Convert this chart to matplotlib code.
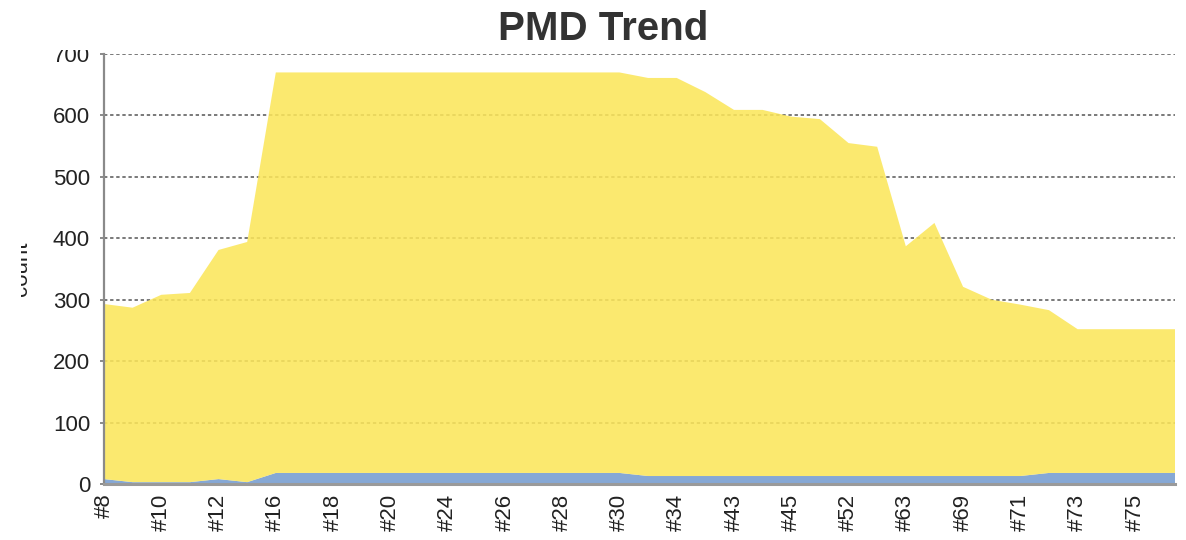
import numpy as np
import matplotlib.pyplot as plt
from matplotlib.transforms import Bbox, TransformedBbox

# builds shown on the x axis (every other build is labelled)
tick_labels = ["#8", "#10", "#12", "#16", "#18", "#20", "#24", "#26", "#28", "#30",
               "#34", "#43", "#45", "#52", "#63", "#69", "#71", "#73", "#75"]

# total warnings per build (top of the stack)
total_warnings = [293, 287, 308, 311, 381, 394, 670, 670, 670, 670,
                  670, 670, 670, 670, 670, 670, 670, 670, 670, 661,
                  661, 638, 609, 609, 598, 594, 555, 549, 387, 425,
                  321, 300, 292, 283, 252, 252, 252, 252, 252]

# low priority warnings (blue band at the bottom)
low_priority = [8, 3, 3, 3, 8, 3, 18, 18, 18, 18,
                18, 18, 18, 18, 18, 18, 18, 18, 18, 13,
                13, 13, 13, 13, 13, 13, 13, 13, 13, 13,
                13, 13, 13, 18, 18, 18, 18, 18, 18]

normal_priority = [t - l for t, l in zip(total_warnings, low_priority)]

plt.rcParams['font.family'] = ['Liberation Sans', 'DejaVu Sans']

fig = plt.figure(figsize=(11.86, 5.4), dpi=100)
ax = fig.add_axes([104 / 1186, 1 - 484 / 540, 1071 / 1186, 430 / 540])

x = np.arange(len(total_warnings))
ax.stackplot(x, low_priority, normal_priority,
             colors=['#749bcf', '#fbe65a'], alpha=0.87, linewidth=0, zorder=2)

ax.set_ylim(0, 700)
ax.set_xlim(0, 37.4)
ax.set_yticks(range(0, 701, 100))
ax.set_xticks(x[::2][:len(tick_labels)])
ax.set_xticklabels(tick_labels, rotation=90, va='top')

ax.grid(axis='y', color='#555555', linestyle=(0, (2.2, 1.8)), linewidth=1.1, zorder=1)
ax.set_axisbelow(True)

for side in ['top', 'right']:
    ax.spines[side].set_visible(False)
ax.spines['left'].set_color('#8a8a8a')
ax.spines['left'].set_linewidth(1.6)
ax.spines['bottom'].set_color('#9a9a9a')
ax.spines['bottom'].set_linewidth(2.2)
ax.spines['left'].set_zorder(3)
ax.spines['bottom'].set_zorder(3)

ax.tick_params(axis='y', length=3, width=1.2, color='#777777', pad=7,
               labelsize=16, labelcolor='#222222')
ax.tick_params(axis='x', length=0, pad=7, labelsize=16, labelcolor='#222222')

ax.set_ylabel('count', fontsize=16, color='#222222')
ax.yaxis.set_label_coords(-0.067, 0.5)

# the reference is cut off near the top and left edges
clip = TransformedBbox(Bbox([[21 / 1186, 0], [1, 1 - 50 / 540]]), fig.transFigure)
for lbl in ax.get_yticklabels() + [ax.yaxis.label]:
    lbl.set_clip_box(clip)
    lbl.set_clip_on(True)

fig.text(603 / 1186, 1 - 40 / 540, 'PMD Trend', ha='center', va='baseline',
         fontsize=29, fontweight='bold', color='#333333')

fig.savefig('out.png', dpi=100)
